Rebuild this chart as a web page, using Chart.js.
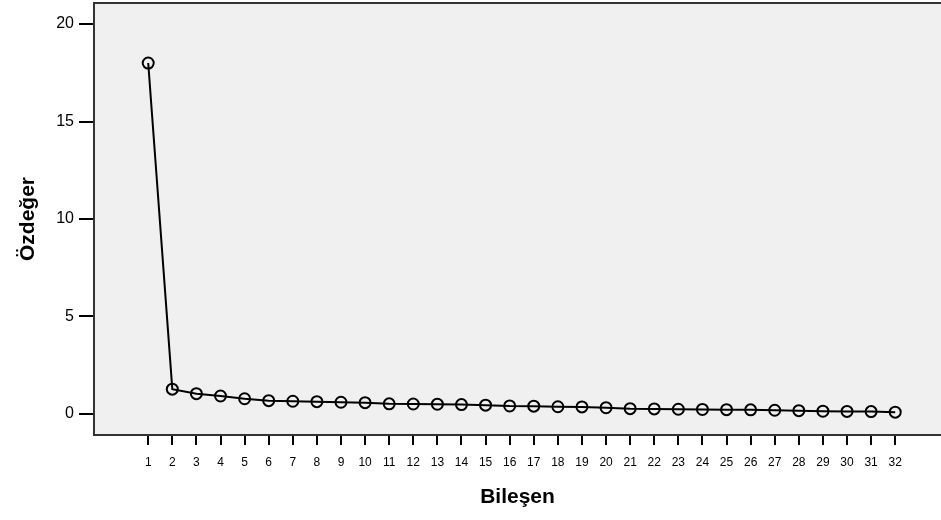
<!DOCTYPE html>
<html>
<head>
<meta charset="utf-8">
<script src="https://cdn.jsdelivr.net/npm/chart.js@4.4.0/dist/chart.umd.min.js"></script>
<style>
  html, body { margin: 0; padding: 0; background: #fff; }
  canvas { display: block; }
</style>
</head>
<body>
<canvas id="myChart" width="941" height="520"></canvas>
<script>
const components = [1, 2, 3, 4, 5, 6, 7, 8, 9, 10, 11, 12, 13, 14, 15, 16,
    17, 18, 19, 20, 21, 22, 23, 24, 25, 26, 27, 28, 29, 30, 31, 32];
const eigenvalues = [18.0, 1.27, 1.04, 0.92, 0.78, 0.68, 0.65, 0.63, 0.60, 0.58, 0.52, 0.51,
    0.50, 0.48, 0.45, 0.41, 0.40, 0.37, 0.36, 0.32, 0.27, 0.26, 0.24, 0.23,
    0.22, 0.21, 0.19, 0.17, 0.14, 0.13, 0.12, 0.09];
const yTicks = [0, 5, 10, 15, 20];

const font = 'Arial, "Liberation Sans", sans-serif';
const ctx = document.getElementById('myChart');

const plotBackground = {
    id: 'plotBackground',
    beforeDraw(chart) {
        const a = chart.chartArea;
        const c = chart.ctx;
        c.save();
        c.fillStyle = '#f0f0f0';
        c.fillRect(a.left, a.top, a.right - a.left, a.bottom - a.top);
        c.restore();
    },
    afterDraw(chart) {
        const a = chart.chartArea;
        const c = chart.ctx;
        c.save();
        c.strokeStyle = '#333';
        c.lineWidth = 2;
        c.beginPath();
        c.moveTo(a.left, a.top);
        c.lineTo(a.right, a.top);
        c.stroke();
        c.restore();
    }
};

const chart = new Chart(ctx, {
    type: 'line',
    data: {
        datasets: [{
            data: components.map((c, i) => ({ x: c, y: eigenvalues[i] })),
            borderColor: '#000',
            borderWidth: 2,
            tension: 0,
            pointRadius: 5.5,
            pointBorderWidth: 2,
            pointBorderColor: '#000',
            pointBackgroundColor: 'rgba(0,0,0,0)',
            clip: false
        }]
    },
    options: {
        responsive: false,
        animation: false,
        layout: { autoPadding: false, padding: { top: 3, left: 0, right: 0, bottom: 0 } },
        plugins: { legend: { display: false }, tooltip: { enabled: false } },
        scales: {
            x: {
                type: 'linear',
                min: -1.25,
                max: 33.9,
                afterBuildTicks: s => { s.ticks = components.map(v => ({ value: v })); },
                afterFit: s => { s.height = 85; s.paddingLeft = 0; s.paddingRight = 0; },
                grid: { drawOnChartArea: false, tickLength: 10, tickColor: '#000', lineWidth: 2 },
                border: { display: true, color: '#333', width: 2 },
                ticks: {
                    autoSkip: false, maxRotation: 0, padding: 10, color: '#000',
                    font: { family: font, size: 12 }
                },
                title: {
                    display: true, text: 'Bileşen', color: '#000',
                    font: { family: font, size: 21, weight: 'bold' },
                    padding: { top: 0, bottom: 10 }
                }
            },
            y: {
                min: -1.08,
                max: 21.08,
                afterBuildTicks: s => { s.ticks = yTicks.map(v => ({ value: v })); },
                afterFit: s => { s.width = 94; s.paddingTop = 0; s.paddingBottom = 0; },
                grid: { drawOnChartArea: false, tickLength: 15, tickColor: '#000', lineWidth: 2 },
                border: { display: true, color: '#333', width: 2 },
                ticks: {
                    padding: 5, color: '#000',
                    font: { family: font, size: 16 }
                },
                title: {
                    display: true, text: 'Özdeğer', color: '#000',
                    font: { family: font, size: 21, weight: 'bold' },
                    padding: { top: 16, bottom: 0 }
                }
            }
        }
    },
    plugins: [plotBackground]
});
</script>
</body>
</html>
